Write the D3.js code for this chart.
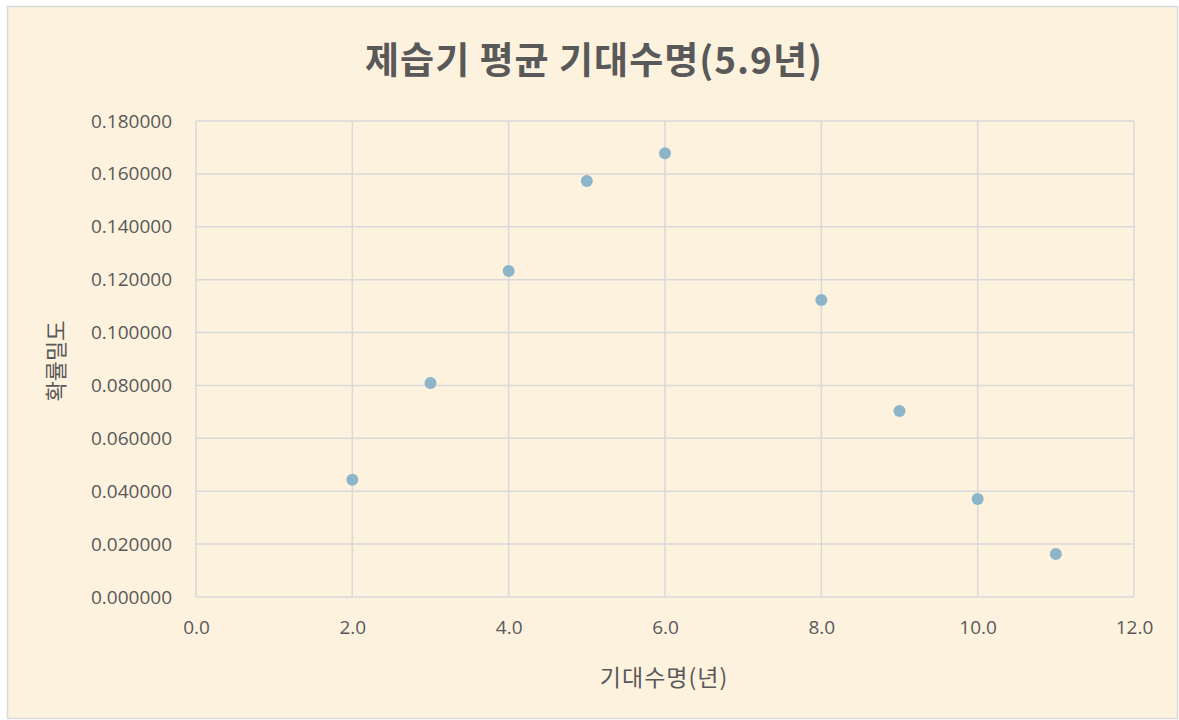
<!DOCTYPE html>
<html>
<head>
<meta charset="utf-8">
<script src="https://cdn.jsdelivr.net/npm/d3@7"></script>
<style>
  body { margin: 0; background: #fff; }
  svg { display: block; }
</style>
</head>
<body>
<div id="chart"></div>
<script>
// values
const years = [2, 3, 4, 5, 6, 8, 9, 10, 11];
const density = [0.0443, 0.0809, 0.1233, 0.1573, 0.1678, 0.1123, 0.0703, 0.0371, 0.0163];
const xTicks = [0, 2, 4, 6, 8, 10, 12];
const yTicks = [0, 0.02, 0.04, 0.06, 0.08, 0.10, 0.12, 0.14, 0.16, 0.18];
const titleText = "제습기 평균 기대수명(5.9년)";
const xLabel = "기대수명(년)";
const yLabel = "확률밀도";

const width = 1179, height = 720;
const margin = {top: 121, right: 45, bottom: 123, left: 196};
const plotW = width - margin.left - margin.right;
const plotH = height - margin.top - margin.bottom;
const textColor = "#595959";
const kr = "'Noto Sans CJK KR', 'Noto Sans', sans-serif";
const num = "'Open Sans', 'Noto Sans', sans-serif";

const svg = d3.select("#chart").append("svg")
    .attr("width", width)
    .attr("height", height);

// background + border
svg.append("rect")
    .attr("x", 7.5).attr("y", 6.5)
    .attr("width", width - 9).attr("height", height - 8)
    .attr("fill", "#FDF2DE")
    .attr("stroke", "#D9D9D9")
    .attr("stroke-width", 1.5);

const xScale = d3.scaleLinear().domain([0, 12]).range([0, plotW]);
const yScale = d3.scaleLinear().domain([0, 0.18]).range([plotH, 0]);

const g = svg.append("g")
    .attr("transform", "translate(" + margin.left + "," + margin.top + ")");

// grid lines
g.append("g").selectAll("line.ygrid")
    .data(yTicks)
    .enter().append("line")
    .attr("class", "ygrid")
    .attr("x1", 0).attr("x2", plotW)
    .attr("y1", d => yScale(d)).attr("y2", d => yScale(d))
    .attr("stroke", "#D9D9D9").attr("stroke-width", 1.5);

g.append("g").selectAll("line.xgrid")
    .data(xTicks)
    .enter().append("line")
    .attr("class", "xgrid")
    .attr("y1", 0).attr("y2", plotH)
    .attr("x1", d => xScale(d)).attr("x2", d => xScale(d))
    .attr("stroke", "#D9D9D9").attr("stroke-width", 1.5);

// axes (labels only)
const yAxis = d3.axisLeft(yScale)
    .tickValues(yTicks)
    .tickSize(0)
    .tickPadding(24)
    .tickFormat(d3.format(".6f"));

const xAxis = d3.axisBottom(xScale)
    .tickValues(xTicks)
    .tickSize(0)
    .tickPadding(24)
    .tickFormat(d3.format(".1f"));

const yg = g.append("g").call(yAxis);
const xg = g.append("g").attr("transform", "translate(0," + plotH + ")").call(xAxis);

[yg, xg].forEach(a => {
  a.select(".domain").remove();
  a.selectAll("text")
      .attr("fill", textColor)
      .style("font-family", num)
      .style("font-size", "19px");
});

// points
g.selectAll("circle.dot")
    .data(years.map((y, i) => ({x: y, v: density[i]})))
    .enter().append("circle")
    .attr("class", "dot")
    .attr("cx", d => xScale(d.x))
    .attr("cy", d => yScale(d.v))
    .attr("r", 6)
    .attr("fill", "#8DB5C9");

// titles
svg.append("text")
    .attr("x", 594).attr("y", 74)
    .attr("text-anchor", "middle")
    .attr("fill", textColor)
    .style("font-family", kr)
    .style("font-size", "37px")
    .style("font-weight", "bold")
    .style("letter-spacing", "1px")
    .text(titleText);

svg.append("text")
    .attr("x", 664).attr("y", 686)
    .attr("text-anchor", "middle")
    .attr("fill", textColor)
    .style("font-family", kr)
    .style("font-size", "23px")
    .style("letter-spacing", "1px")
    .text(xLabel);

svg.append("text")
    .attr("transform", "translate(64,361) rotate(-90)")
    .attr("text-anchor", "middle")
    .attr("fill", textColor)
    .style("font-family", kr)
    .style("font-size", "22px")
    .text(yLabel);
</script>
</body>
</html>
